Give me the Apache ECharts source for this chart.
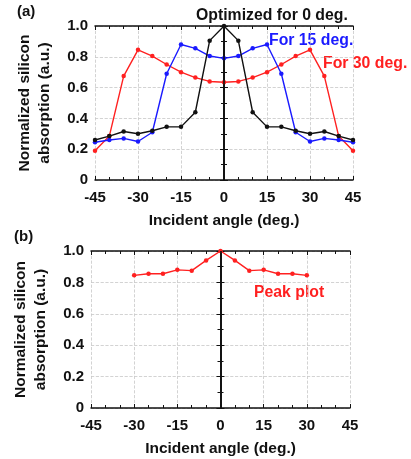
<!DOCTYPE html>
<html>
<head>
<meta charset="utf-8">
<script src="https://cdn.jsdelivr.net/npm/echarts@6/dist/echarts.min.js"></script>
<style>
  html, body { margin: 0; padding: 0; background: #fff; }
  #root { width: 411px; height: 459px; }
</style>
</head>
<body>
<div id="root"></div>
<script>
// incident angles (deg.)
const anglesA = [-45, -40, -35, -30, -25, -20, -15, -10, -5, 0, 5, 10, 15, 20, 25, 30, 35, 40, 45]
const opt0 = [0.26, 0.285, 0.315, 0.30, 0.32, 0.345, 0.345, 0.44, 0.905, 1.0, 0.905, 0.44, 0.345, 0.345, 0.32, 0.30, 0.315, 0.285, 0.26]
const opt15 = [0.245, 0.26, 0.27, 0.25, 0.31, 0.69, 0.88, 0.855, 0.805, 0.79, 0.805, 0.855, 0.88, 0.69, 0.31, 0.25, 0.27, 0.26, 0.245]
const opt30 = [0.19, 0.285, 0.675, 0.845, 0.805, 0.75, 0.70, 0.665, 0.64, 0.635, 0.64, 0.665, 0.70, 0.75, 0.805, 0.845, 0.675, 0.285, 0.19]

const anglesB = [-30, -25, -20, -15, -10, -5, 0, 5, 10, 15, 20, 25, 30]
const peak = [0.845, 0.855, 0.855, 0.88, 0.875, 0.94, 1.0, 0.94, 0.875, 0.88, 0.855, 0.855, 0.845]

const font = 'Liberation Sans, Arial, sans-serif'
const BLACK = '#111', BLUE = '#1a1aff', RED = '#ff2020'

const pairs = (xs, ys) => xs.map((x, i) => [x, ys[i]])

function xAxisFor(gridIndex, show) {
    return {
        type: 'value', gridIndex: gridIndex, min: -45, max: 45, interval: 15,
        position: show ? 'bottom' : 'top',
        name: show ? 'Incident angle (deg.)' : '',
        nameLocation: 'middle', nameGap: 33,
        nameTextStyle: { fontFamily: font, fontWeight: 'bold', fontSize: 15.5, color: '#111' },
        axisLine: { show: true, onZero: false, lineStyle: { color: '#111', width: 1.5 } },
        axisTick: { show: true, inside: true, length: 4, lineStyle: { color: '#111' } },
        minorTick: { show: true, splitNumber: 3, length: 3, lineStyle: { color: '#111' } },
        axisLabel: { show: show, fontFamily: font, fontWeight: 'bold', fontSize: 15, color: '#111', margin: 10 },
        splitLine: { show: show, lineStyle: { color: '#c8c8c8', type: 'dashed', width: 0.8 } }
    }
}

function yAxisFor(gridIndex, show) {
    return {
        type: 'value', gridIndex: gridIndex, min: 0, max: 1, interval: 0.2,
        position: show ? 'left' : 'right',
        name: show ? 'Normalized silicon\nabsorption (a.u.)' : '',
        nameLocation: 'middle', nameGap: 40, nameRotate: 90,
        nameTextStyle: { fontFamily: font, fontWeight: 'bold', fontSize: 15.5, color: '#111', lineHeight: 20 },
        axisLine: { show: true, lineStyle: { color: '#111', width: 1.5 } },
        axisTick: { show: true, inside: true, length: 4, lineStyle: { color: '#111' } },
        minorTick: { show: true, splitNumber: 2, length: 3, lineStyle: { color: '#111' } },
        axisLabel: {
            show: show, fontFamily: font, fontWeight: 'bold', fontSize: 15, color: '#111', margin: 7,
            formatter: v => v === 0 ? '0' : v.toFixed(1)
        },
        splitLine: { show: show, lineStyle: { color: '#c8c8c8', type: 'dashed', width: 0.8 } }
    }
}

function line(xAxisIndex, yAxisIndex, data, color, z) {
    return {
        type: 'line', xAxisIndex: xAxisIndex, yAxisIndex: yAxisIndex, data: data,
        symbol: 'circle', symbolSize: 4.5, z: z || 2,
        lineStyle: { color: color, width: 1.4 },
        itemStyle: { color: color },
        animation: false
    }
}

function zeroLine(xAxisIndex, yAxisIndex) {
    return {
        type: 'line', xAxisIndex: xAxisIndex, yAxisIndex: yAxisIndex, data: [],
        markLine: {
            silent: true, symbol: 'none', label: { show: false },
            lineStyle: { color: '#111', width: 1.6, type: 'solid' },
            data: [{ xAxis: 0 }]
        },
        animation: false
    }
}

const label = (x, y, text, color, size) => ({
    type: 'text', left: x, top: y,
    style: { text: text, fill: color, font: 'bold ' + (size || 15.5) + 'px ' + font }
})

const chart = echarts.init(document.getElementById('root'), null, { renderer: 'canvas' })
chart.setOption({
    backgroundColor: '#fff',
    animation: false,
    grid: [
        { left: 95, right: 58, top: 26, height: 154 },
        { left: 91, right: 61, top: 251, height: 157 }
    ],
    xAxis: [xAxisFor(0, true), xAxisFor(0, false), xAxisFor(1, true), xAxisFor(1, false)],
    yAxis: [yAxisFor(0, true), yAxisFor(0, false), yAxisFor(1, true), yAxisFor(1, false)],
    series: [
        zeroLine(0, 0),
        line(0, 0, pairs(anglesA, opt30), RED, 3),
        line(0, 0, pairs(anglesA, opt15), BLUE, 4),
        line(0, 0, pairs(anglesA, opt0), BLACK, 5),
        zeroLine(2, 2),
        line(2, 2, pairs(anglesB, peak), RED, 3)
    ],
    graphic: [
        label(17, 4, '(a)', '#111', 15),
        label(14, 229, '(b)', '#111', 15),
        label(196, 8, 'Optimized for 0 deg.', '#111', 15.8),
        label(269, 33, 'For 15 deg.', BLUE, 15.8),
        label(323, 56, 'For 30 deg.', RED, 15.8),
        label(254, 285, 'Peak plot', RED, 15.8)
    ]
})
</script>
</body>
</html>
